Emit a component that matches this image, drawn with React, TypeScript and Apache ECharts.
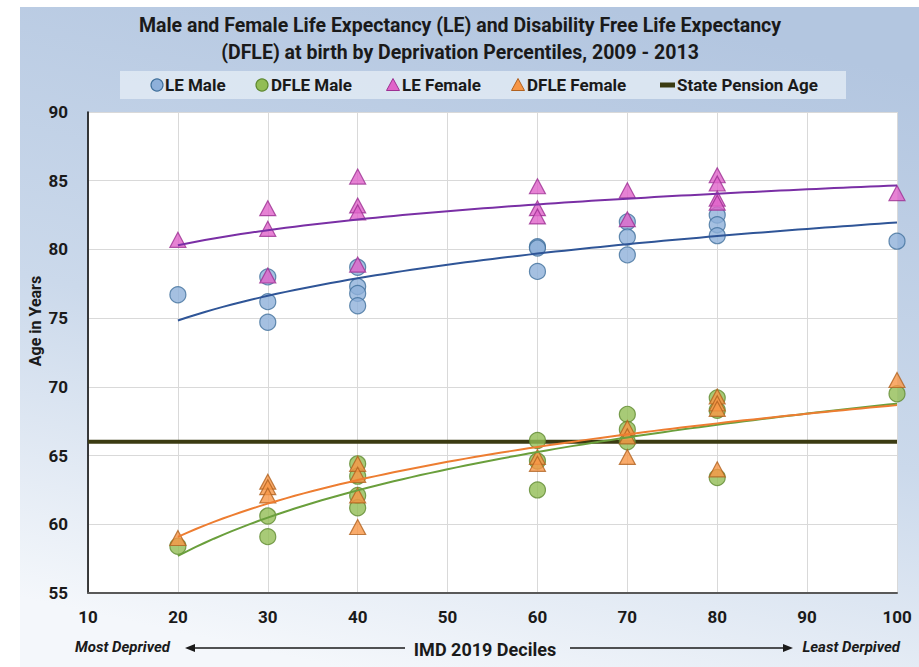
import React, { useEffect, useRef } from "react";
import * as echarts from "echarts";

const xTicks = [10, 20, 30, 40, 50, 60, 70, 80, 90, 100];
const yTicks = [55, 60, 65, 70, 75, 80, 85, 90];

const leMale: number[][] = [
  [20, 76.7], [30, 78.0], [30, 76.2], [30, 74.7], [40, 78.7], [40, 77.3], [40, 76.8], [40, 75.9],
  [60, 80.2], [60, 80.1], [60, 78.4], [70, 82.0], [70, 80.9], [70, 79.6], [80, 82.5], [80, 81.8],
  [80, 81.0], [100, 80.6],
];
const dfleMale: number[][] = [
  [20, 58.4], [30, 60.6], [30, 59.1], [40, 64.4], [40, 63.5], [40, 62.1], [40, 61.2],
  [60, 66.1], [60, 64.6], [60, 62.5], [70, 68.0], [70, 66.9], [70, 66.0], [80, 69.2], [80, 68.3],
  [80, 63.4], [100, 69.5],
];
const leFemale: number[][] = [
  [20, 80.7], [30, 83.0], [30, 81.5], [30, 78.1], [40, 85.3], [40, 83.2], [40, 82.7], [40, 78.9],
  [60, 84.6], [60, 83.0], [60, 82.4], [70, 84.3], [70, 82.2], [80, 85.4], [80, 84.8], [80, 83.7],
  [80, 83.4], [100, 84.1],
];
const dfleFemale: number[][] = [
  [20, 59.0], [30, 63.1], [30, 62.7], [30, 62.1], [40, 64.4], [40, 63.6], [40, 62.1], [40, 59.8],
  [60, 64.9], [60, 64.4], [70, 67.0], [70, 66.4], [70, 64.9], [80, 69.3], [80, 68.8], [80, 68.4],
  [80, 64.0], [100, 70.5],
];
const pensionAge = [[10, 66], [100, 66]];

const titleLines = [
  "Male and Female Life Expectancy (LE) and Disability Free Life Expectancy",
  "(DFLE) at birth by Deprivation Percentiles, 2009 - 2013",
];

// logarithmic least-squares trendline (as the spreadsheet does)
function logTrend(pts: number[][]): number[][] {
  const n = pts.length;
  let sx = 0, sy = 0, sxx = 0, sxy = 0;
  for (const [x, y] of pts) {
    const l = Math.log(x);
    sx += l; sy += y; sxx += l * l; sxy += l * y;
  }
  const b = (n * sxy - sx * sy) / (n * sxx - sx * sx);
  const a = (sy - b * sx) / n;
  const xs = pts.map((p) => p[0]);
  const lo = Math.min(...xs), hi = Math.max(...xs);
  const out: number[][] = [];
  for (let x = lo; x <= hi; x += 1) out.push([x, a + b * Math.log(x)]);
  return out;
}

const FONT = "Roboto";
const INK = "#1a1a1a";

export default function App() {
  const ref = useRef<HTMLDivElement>(null);
  useEffect(() => {
    if (!ref.current) return;
    const chart = echarts.init(ref.current, undefined, { renderer: "svg" });
    const scatter = (name: string, data: number[][], symbol: string, fill: string, stroke: string) => ({
      name, type: "scatter", data, symbol,
      symbolSize: symbol === "circle" ? 16 : [16, 15],
      itemStyle: { color: fill, borderColor: stroke, borderWidth: 1.2 },
      z: 3,
    });
    const trend = (data: number[][], color: string) => ({
      type: "line", data, showSymbol: false, smooth: false,
      lineStyle: { color, width: 2 }, z: 4, silent: true,
    });
    const legendY = 85;
    const legendText = (x: number, text: string) => ({
      type: "text", x, y: legendY,
      style: { text, font: `bold 17px ${FONT}`, fill: INK, verticalAlign: "middle" },
    });
    chart.setOption({
      animation: false,
      textStyle: { fontFamily: FONT },
      grid: { left: 88, right: 22, top: 112, bottom: 74, show: true, backgroundColor: "#ffffff", borderWidth: 0 },
      xAxis: {
        type: "value", min: 10, max: 100, interval: 10,
        axisLine: { show: true, lineStyle: { color: "#595959", width: 2 } },
        axisTick: { show: false },
        axisLabel: { margin: 15, fontSize: 17, fontWeight: "bold", color: INK, formatter: (v: number) => (xTicks.includes(v) ? String(v) : "") },
        splitLine: { show: true, lineStyle: { color: "#d9d9d9", width: 1 } },
      },
      yAxis: {
        type: "value", min: 55, max: 90, interval: 5,
        axisLine: { show: true, lineStyle: { color: "#000000", width: 1.5 } },
        axisTick: { show: false },
        axisLabel: { margin: 20, fontSize: 17, fontWeight: "bold", color: INK, formatter: (v: number) => (yTicks.includes(v) ? String(v) : "") },
        splitLine: { show: true, lineStyle: { color: "#d9d9d9", width: 1 } },
      },
      graphic: [
        {
          type: "rect", z: -10, shape: { x: 20, y: 7, width: 899, height: 660 },
          style: {
            fill: {
              type: "linear", x: 0.65, y: 0, x2: 0.35, y2: 1,
              colorStops: [
                { offset: 0, color: "#b3c6e0" },
                { offset: 0.55, color: "#cbd9eb" },
                { offset: 1, color: "#f4f7fb" },
              ],
            },
          },
        },
        { type: "text", x: 460, y: 25, style: { text: titleLines[0], font: `bold 19.5px ${FONT}`, fill: INK, align: "center", verticalAlign: "middle" } },
        { type: "text", x: 460, y: 52, style: { text: titleLines[1], font: `bold 19.5px ${FONT}`, fill: INK, align: "center", verticalAlign: "middle" } },
        { type: "rect", shape: { x: 120, y: 71, width: 726, height: 28 }, style: { fill: "rgba(230,237,246,0.75)" } },
        { type: "circle", shape: { cx: 157, cy: legendY, r: 6 }, style: { fill: "#8eb0da", stroke: "#41719c", lineWidth: 1.2 } },
        legendText(165, "LE Male"),
        { type: "circle", shape: { cx: 262, cy: legendY, r: 6 }, style: { fill: "#92bd55", stroke: "#5f8a30", lineWidth: 1.2 } },
        legendText(271, "DFLE Male"),
        { type: "polygon", shape: { points: [[393, legendY - 6.5], [399.5, legendY + 5.5], [386.5, legendY + 5.5]] }, style: { fill: "#e063c9", stroke: "#9c3092", lineWidth: 1 } },
        legendText(402, "LE Female"),
        { type: "polygon", shape: { points: [[518, legendY - 6.5], [524.5, legendY + 5.5], [511.5, legendY + 5.5]] }, style: { fill: "#f79646", stroke: "#b0611f", lineWidth: 1 } },
        legendText(527, "DFLE Female"),
        { type: "rect", shape: { x: 660, y: legendY - 2.5, width: 15, height: 5 }, style: { fill: "#3b3b12" } },
        legendText(677, "State Pension Age"),
        {
          type: "text", x: 35, y: 321, rotation: Math.PI / 2,
          style: { text: "Age in Years", font: `bold 16px ${FONT}`, fill: INK, align: "center", verticalAlign: "middle" },
        },
        { type: "text", x: 75, y: 647, style: { text: "Most Deprived", font: `italic bold 15px ${FONT}`, fill: INK, verticalAlign: "middle" } },
        { type: "line", shape: { x1: 194, y1: 648, x2: 405, y2: 648 }, style: { stroke: INK, lineWidth: 1.5 } },
        { type: "polygon", shape: { points: [[185, 648], [195, 644], [195, 652]] }, style: { fill: INK } },
        { type: "text", x: 485, y: 649, style: { text: "IMD 2019 Deciles", font: `bold 18px ${FONT}`, fill: INK, align: "center", verticalAlign: "middle" } },
        { type: "line", shape: { x1: 570, y1: 648, x2: 784, y2: 648 }, style: { stroke: INK, lineWidth: 1.5 } },
        { type: "polygon", shape: { points: [[793, 648], [783, 644], [783, 652]] }, style: { fill: INK } },
        { type: "text", x: 900, y: 647, style: { text: "Least Derpived", font: `italic bold 15px ${FONT}`, fill: INK, align: "right", verticalAlign: "middle" } },
      ],
      series: [
        {
          name: "State Pension Age", type: "line", data: pensionAge, showSymbol: false,
          lineStyle: { color: "#3b3b12", width: 4 }, z: 2, silent: true,
        },
        scatter("LE Male", leMale, "circle", "#8eb0da", "#41719c"),
        scatter("DFLE Male", dfleMale, "circle", "#92bd55", "#5f8a30"),
        scatter("LE Female", leFemale, "triangle", "#e063c9", "#9c3092"),
        scatter("DFLE Female", dfleFemale, "triangle", "#f79646", "#b0611f"),
        trend(logTrend(leMale), "#2f5597"),
        trend(logTrend(dfleMale), "#6a9f3c"),
        trend(logTrend(leFemale), "#7a2fa5"),
        trend(logTrend(dfleFemale), "#ed7d31"),
      ],
    });
    return () => chart.dispose();
  }, []);
  return <div ref={ref} style={{ position: "absolute", left: 0, top: 0, width: 919, height: 667 }} />;
}
